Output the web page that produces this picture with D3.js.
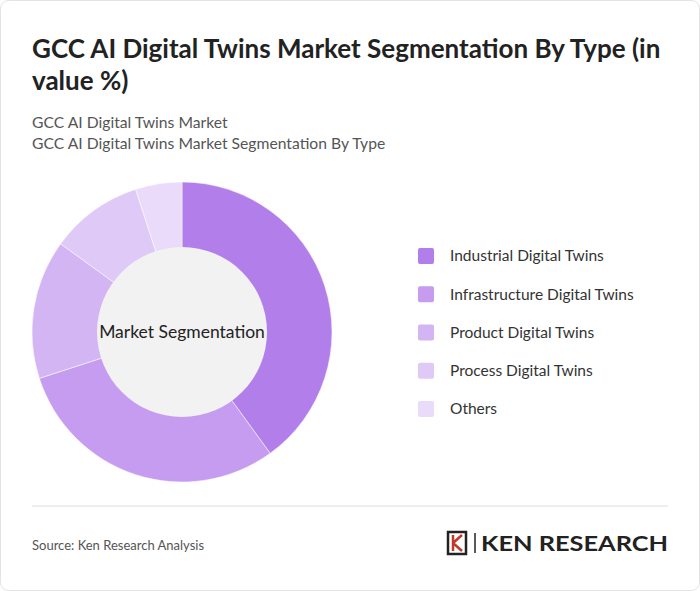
<!DOCTYPE html><html><head><script src="https://cdn.jsdelivr.net/npm/d3@7"></script>
<style>body{margin:0;background:#fff;font-family:Lato,"Open Sans",sans-serif}</style></head><body><svg id="c" width="700" height="591"></svg>
<script>
const categories=["Industrial Digital Twins","Infrastructure Digital Twins","Product Digital Twins","Process Digital Twins","Others"];
const values=[40,30,15,10,5];
const colors=["#b27fea","#c59cf0","#d3b5f4","#dfc9f7","#e9dbf9"];
const svg=d3.select("#c");
svg.append("rect").attr("x",0.5).attr("y",0.5).attr("width",699).attr("height",590).attr("rx",8).attr("fill","#fff").attr("stroke","#e3e3e3");
const t=svg.append("text").attr("x",32).attr("font-size",26).attr("font-weight",700).attr("fill","#222");
t.append("tspan").attr("x",32).attr("y",58).text("GCC AI Digital Twins Market Segmentation By Type (in");
t.append("tspan").attr("x",32).attr("y",90).text("value %)");
svg.append("text").attr("x",32).attr("y",128).attr("font-size",15.7).attr("fill","#555").text("GCC AI Digital Twins Market");
svg.append("text").attr("x",32).attr("y",149).attr("font-size",15.7).attr("fill","#555").text("GCC AI Digital Twins Market Segmentation By Type");
const g=svg.append("g").attr("transform","translate(182,332)");
const pie=d3.pie().sort(null)(values);
const arc=d3.arc().innerRadius(0).outerRadius(150);
g.selectAll("path").data(pie).join("path").attr("d",arc).attr("fill",(d,i)=>colors[i]).attr("stroke","#fff").attr("stroke-width",0.5);
g.append("circle").attr("r",85).attr("fill","#f2f2f2");
g.append("text").attr("text-anchor","middle").attr("dy","0.35em").attr("font-size",17.5).attr("fill","#222").text("Market Segmentation");
const y=d3.scalePoint().domain(categories).range([256,409]);
const lg=svg.append("g");
categories.forEach((c,i)=>{
 lg.append("rect").attr("x",418).attr("y",y(c)-8).attr("width",16).attr("height",16).attr("rx",2).attr("fill",colors[i]);
 lg.append("text").attr("x",450).attr("y",y(c)).attr("dy","0.35em").attr("font-size",15.5).attr("fill","#333").text(c);
});
svg.append("line").attr("x1",32).attr("x2",668).attr("y1",506).attr("y2",506).attr("stroke","#ddd");
svg.append("text").attr("x",32).attr("y",550).attr("font-size",13).attr("fill","#555").text("Source: Ken Research Analysis");
const L=svg.append("g").attr("transform","translate(448,532)");
L.append("rect").attr("width",18).attr("height",22).attr("fill","none").attr("stroke","#222").attr("stroke-width",2.5);
L.append("path").attr("d","M5,3 V19 M5,11 L14,3 M5,11 L14,19").attr("stroke","#c0392b").attr("stroke-width",2.5).attr("fill","none");
L.append("line").attr("x1",27).attr("x2",27).attr("y1",1).attr("y2",21).attr("stroke","#222").attr("stroke-width",1.5);
L.append("text").attr("x",33).attr("y",19).attr("font-size",20).attr("font-weight",700).attr("fill","#222").attr("textLength",187).attr("lengthAdjust","spacingAndGlyphs").text("KEN RESEARCH");
</script></body></html>
